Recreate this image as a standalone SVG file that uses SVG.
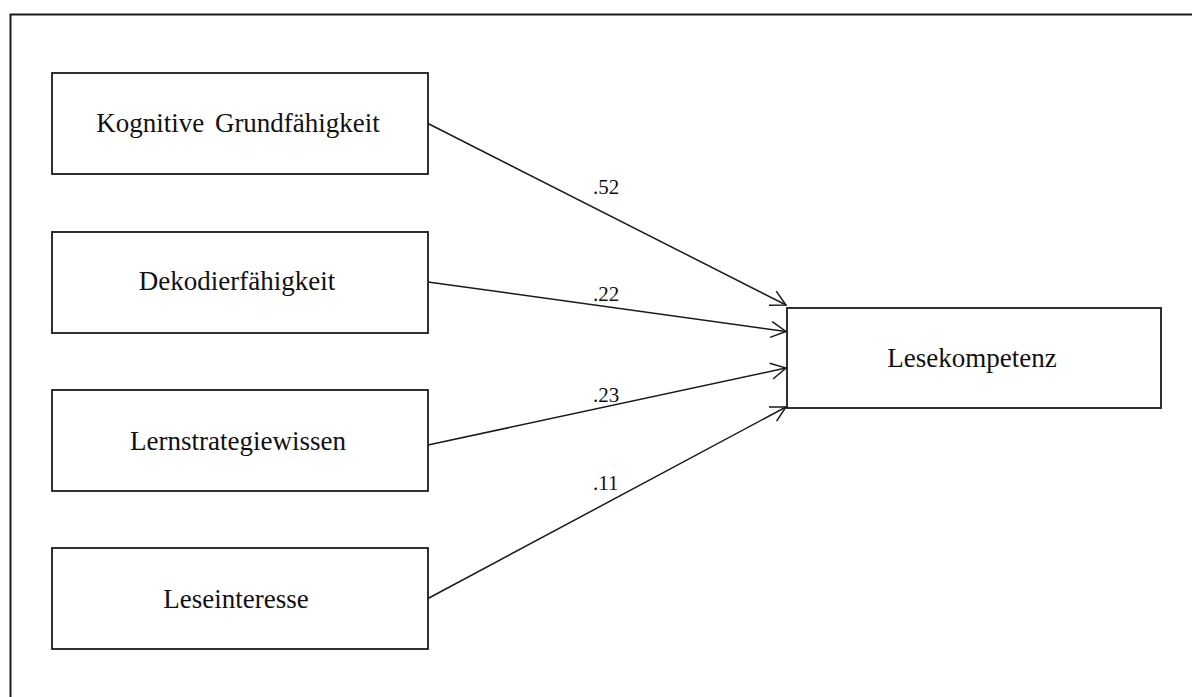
<svg xmlns="http://www.w3.org/2000/svg" width="1192" height="697" viewBox="0 0 1192 697">
  <style>
    .box { fill: #ffffff; stroke: #1a1a1a; stroke-width: 1.8; }
    .label { font-family: "Liberation Serif", "Times New Roman", serif; font-size: 27px; fill: #111111; text-anchor: middle; }
    .coef { font-family: "Liberation Serif", "Times New Roman", serif; font-size: 21px; fill: #111111; }
    .path { fill: none; stroke: #1a1a1a; stroke-width: 1.5; marker-end: url(#open-arrow); }
  </style>
  <defs>
    <marker id="open-arrow" markerUnits="userSpaceOnUse" markerWidth="20" markerHeight="20" refX="0" refY="0" viewBox="-17 -10 19 20" orient="auto" overflow="visible">
      <path d="M -15,-8 L 0,0 L -15,8" fill="none" stroke="#1a1a1a" stroke-width="1.5"/>
    </marker>
  </defs>

  <rect width="1192" height="697" fill="#ffffff"/>
  <!-- outer frame -->
  <rect x="10.5" y="14.5" width="1200" height="700" fill="none" stroke="#1a1a1a" stroke-width="2"/>

  <!-- path connectors with coefficients -->
  <g id="connectors">
    <line class="path" x1="428" y1="123.5" x2="786" y2="305"/>
    <line class="path" x1="428" y1="282" x2="786" y2="331.5"/>
    <line class="path" x1="428" y1="445" x2="786" y2="368"/>
    <line class="path" x1="428" y1="598.5" x2="786" y2="407"/>
    <text class="coef" x="593" y="194">.52</text>
    <text class="coef" x="593" y="301">.22</text>
    <text class="coef" x="593" y="402">.23</text>
    <text class="coef" x="593" y="490">.11</text>
  </g>

  <g id="node-kognitive">
    <rect class="box" x="52" y="73" width="376" height="101"/>
    <text class="label" x="238" y="132" word-spacing="4">Kognitive Grundfähigkeit</text>
  </g>
  <g id="node-dekodier">
    <rect class="box" x="52" y="232" width="376" height="101"/>
    <text class="label" x="237" y="290">Dekodierfähigkeit</text>
  </g>
  <g id="node-lernstrategie">
    <rect class="box" x="52" y="390" width="376" height="101"/>
    <text class="label" x="238" y="450">Lernstrategiewissen</text>
  </g>
  <g id="node-leseinteresse">
    <rect class="box" x="52" y="548" width="376" height="101"/>
    <text class="label" x="236" y="608">Leseinteresse</text>
  </g>
  <g id="node-lesekompetenz">
    <rect class="box" x="787" y="308" width="374" height="100"/>
    <text class="label" x="972" y="367">Lesekompetenz</text>
  </g>
</svg>
